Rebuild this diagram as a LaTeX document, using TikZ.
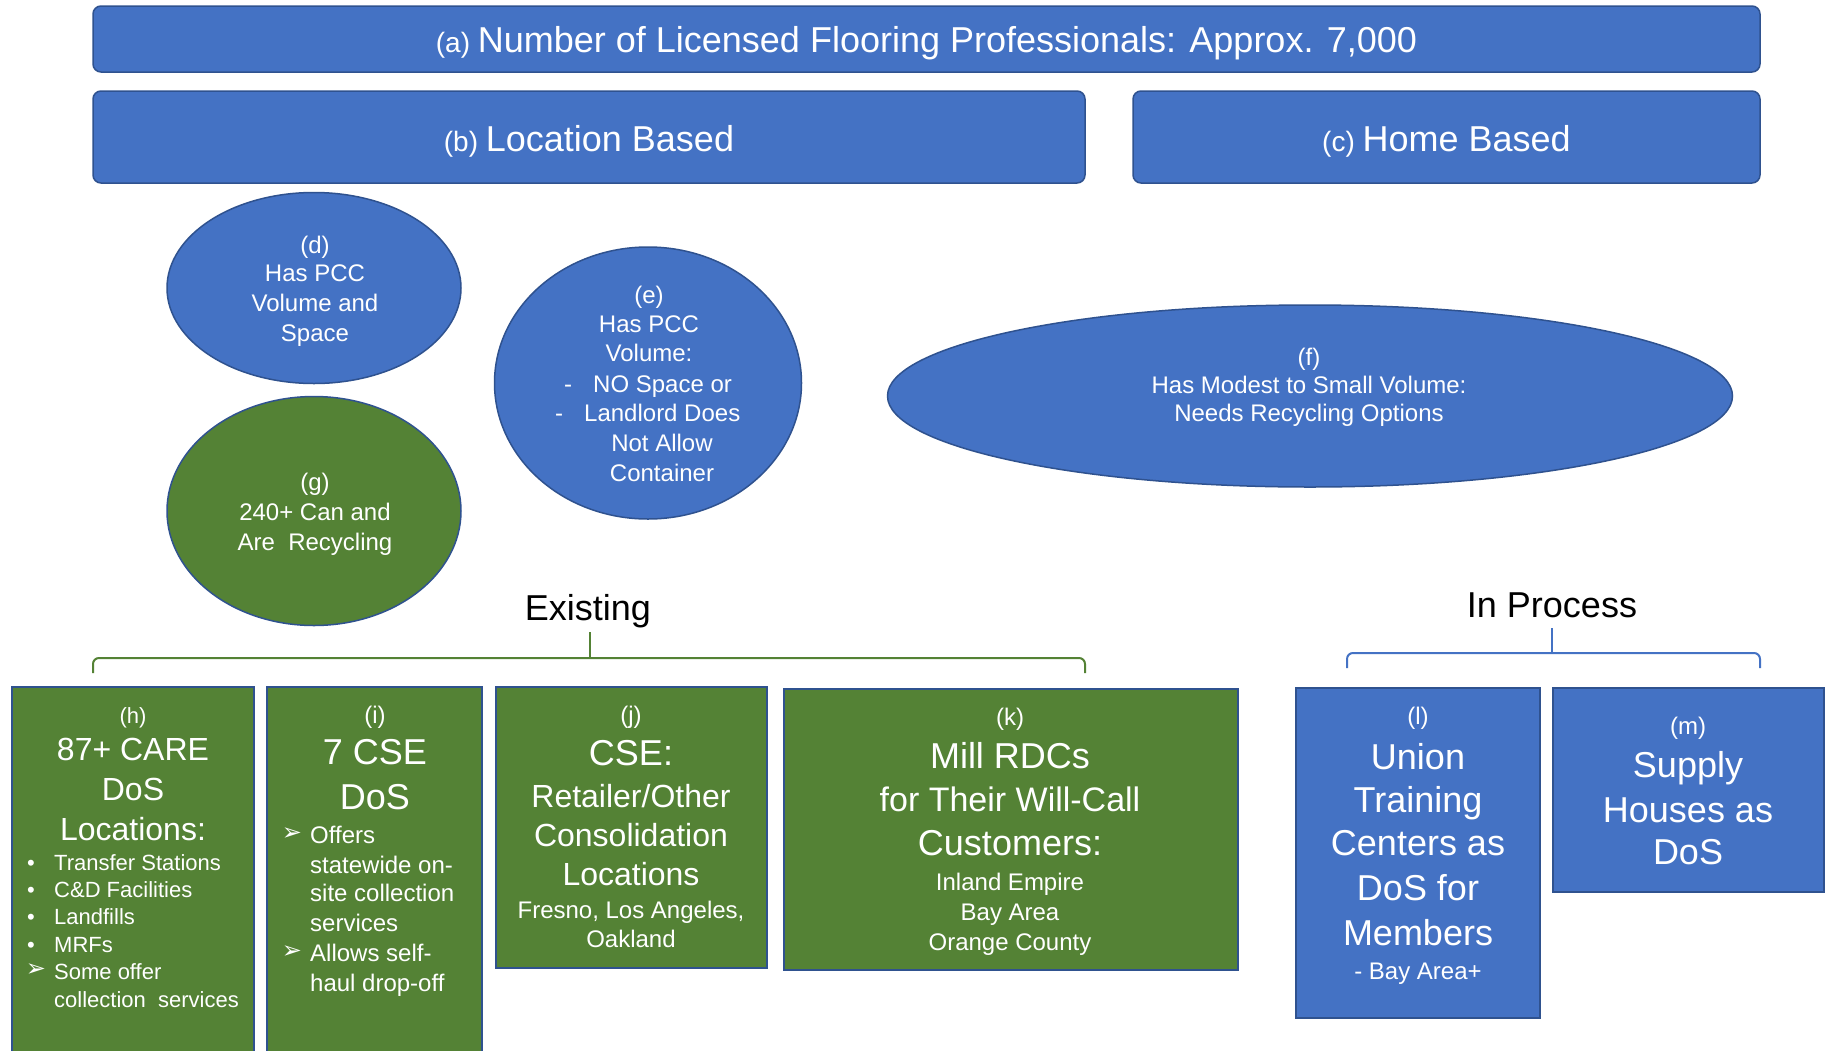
\documentclass[tikz,border=0pt]{standalone}
\usepackage{fontspec}
\setmainfont{Liberation Sans}
\newfontfamily\dejavu{DejaVu Sans}
\usetikzlibrary{shapes.geometric}
\definecolor{ofblue}{HTML}{4472C4}
\definecolor{ofedge}{HTML}{2F528F}
\definecolor{ofgreen}{HTML}{548235}
\definecolor{brgreen}{HTML}{548235}
\newcommand\fs[1]{\fontsize{#1}{#1}\selectfont}
\newcommand\ctl[5]{\node[lbl,font=\fs{#4},anchor=base] (#1) at (#2,{#3+0.34*#4}) {#5};}
\newcommand\ltl[5]{\node[lbl,font=\fs{#4},anchor=base west] (#1) at (#2,{#3+0.34*#4}) {#5};}
\newcommand\arr{{\dejavu\fontsize{24}{24}\selectfont ➢}}
\begin{document}
\begin{tikzpicture}[x=1pt,y=-1pt,
  bluebox/.style={draw=ofedge, fill=ofblue, line width=1.5pt, inner sep=0pt},
  greenbox/.style={draw=ofedge, fill=ofgreen, line width=1.5pt, inner sep=0pt},
  lbl/.style={text=white, inner sep=0pt},
  hdr/.style={text=black, inner sep=0pt, font=\fs{36}}]
\useasboundingbox (0,0) rectangle (1826,1050);
\fill[white] (0,0) rectangle (1826,1050);

% top boxes
\node[bluebox, rounded corners=8pt, minimum width=1667pt, minimum height=66pt] (a) at (926.5,39) {};
\node[bluebox, rounded corners=8pt, minimum width=992pt, minimum height=92pt] (b) at (589,137) {};
\node[bluebox, rounded corners=8pt, minimum width=627pt, minimum height=92pt] (c) at (1446.5,137) {};
\node[lbl] (at) at (926.5,43) {{\fs{28}(a) }{\fs{36}Number of Licensed Flooring Professionals: Approx. 7,000}};
\node[lbl] (bt) at (589,141) {{\fs{28}(b) }{\fs{36}Location Based}};
\node[lbl] (ct) at (1446.5,141) {{\fs{28}(c) }{\fs{36}Home Based}};

% ellipses
\node[bluebox, ellipse, minimum width=294pt, minimum height=191pt] (d) at (314,288) {};
\node[greenbox, ellipse, minimum width=294pt, minimum height=229pt] (g) at (314,511) {};
\node[bluebox, ellipse, minimum width=307pt, minimum height=272pt] (e) at (648,383) {};
\node[bluebox, ellipse, minimum width=845pt, minimum height=182pt] (f) at (1310,396) {};

\ctl{d1}{315}{245}{24}{(d)}
\ctl{d2}{315}{273}{24}{Has PCC}
\ctl{d3}{315}{303}{24}{Volume and}
\ctl{d4}{315}{333}{24}{Space}

\ctl{g1}{315}{482}{24}{(g)}
\ctl{g2}{315}{512}{24}{240+ Can and}
\ctl{g3}{315}{542}{24}{Are\ \ Recycling}

\ctl{e1}{649}{295}{24}{(e)}
\ctl{e2}{649}{324}{24}{Has PCC}
\ctl{e3}{649}{353}{24}{Volume:}
\ctl{e4a}{568}{384}{24}{-}
\ltl{e4}{593}{384}{24}{NO Space or}
\ctl{e5a}{559}{413}{24}{-}
\ltl{e5}{584}{413}{24}{Landlord Does}
\ctl{e6}{662}{443}{24}{Not Allow}
\ctl{e7}{662}{473}{24}{Container}

\ctl{f1}{1309}{357}{24}{(f)}
\ctl{f2}{1309}{385}{24}{Has Modest to Small Volume:}
\ctl{f3}{1309}{413}{24}{Needs Recycling Options}

% group headers and brackets
\node[hdr] (exist) at (588,611) {Existing};
\node[hdr] (inproc) at (1552,605) {In Process};
\coordinate (exL) at (93,673);
\coordinate (exR) at (1085,673);
\coordinate (exT) at (590,632);
\draw[brgreen, line width=2pt, rounded corners=6pt] (exL) -- (93,658) -- (1085,658) -- (exR);
\draw[brgreen, line width=2pt] (590,658) -- (exT);
\coordinate (ipL) at (1347,668);
\coordinate (ipR) at (1760,668);
\coordinate (ipT) at (1552,628);
\draw[ofblue, line width=2pt, rounded corners=6pt] (ipL) -- (1347,653) -- (1760,653) -- (ipR);
\draw[ofblue, line width=2pt] (1552,653) -- (ipT);

% bottom boxes
\node[greenbox, minimum width=242pt, minimum height=375pt] (h) at (133,874.5) {};
\node[greenbox, minimum width=215pt, minimum height=375pt] (i) at (374.5,874.5) {};
\node[greenbox, minimum width=271pt, minimum height=281pt] (j) at (631.5,827.5) {};
\node[greenbox, minimum width=454pt, minimum height=281pt] (k) at (1011,829.5) {};
\node[bluebox, minimum width=244pt, minimum height=330pt] (l) at (1418,853) {};
\node[bluebox, minimum width=271pt, minimum height=204pt] (m) at (1688.5,790) {};

% (h)
\ctl{h1}{133}{716}{22}{(h)}
\ctl{h2}{133}{750}{32}{87+ CARE}
\ctl{h3}{133}{790}{32}{DoS}
\ctl{h4}{133}{830}{32}{Locations:}
\ctl{hb1}{31}{863}{22}{•}
\ltl{ht1}{54}{863}{22}{Transfer Stations}
\ctl{hb2}{31}{890}{22}{•}
\ltl{ht2}{54}{890}{22}{C\&D Facilities}
\ctl{hb3}{31}{917}{22}{•}
\ltl{ht3}{54}{917}{22}{Landfills}
\ctl{hb4}{31}{945}{22}{•}
\ltl{ht4}{54}{945}{22}{MRFs}
\ctl{hb5}{36}{969}{22}{\arr}
\ltl{ht5}{54}{972}{22}{Some offer}
\ltl{ht6}{54}{1000}{22}{collection\ \ services}

% (i)
\ctl{i1}{375}{715}{24}{(i)}
\ctl{i2}{375}{752}{36}{7 CSE}
\ctl{i3}{375}{797}{36}{DoS}
\ctl{ib1}{292}{832}{24}{\arr}
\ltl{it1}{310}{835}{24}{Offers}
\ltl{it2}{310}{865}{24}{statewide on-}
\ltl{it3}{310}{893}{24}{site collection}
\ltl{it4}{310}{923}{24}{services}
\ctl{ib2}{292}{950}{24}{\arr}
\ltl{it5}{310}{953}{24}{Allows self-}
\ltl{it6}{310}{983}{24}{haul drop-off}

% (j)
\ctl{j1}{631}{715}{24}{(j)}
\ctl{j2}{631}{753}{36}{CSE:}
\ctl{j3}{631}{797}{32}{Retailer/Other}
\ctl{j4}{631}{836}{32}{Consolidation}
\ctl{j5}{631}{875}{32}{Locations}
\ctl{j6}{631}{910}{24}{Fresno, Los Angeles,}
\ctl{j7}{631}{939}{24}{Oakland}

% (k)
\ctl{k1}{1010}{717}{24}{(k)}
\ctl{k2}{1010}{756}{36}{Mill RDCs}
\ctl{k3}{1010}{800}{34}{for Their Will-Call}
\ctl{k4}{1010}{843}{36}{Customers:}
\ctl{k5}{1010}{882}{24}{Inland Empire}
\ctl{k6}{1010}{912}{24}{Bay Area}
\ctl{k7}{1010}{942}{24}{Orange County}

% (l)
\ctl{l1}{1418}{716}{24}{(l)}
\ctl{l2}{1418}{757}{36}{Union}
\ctl{l3}{1418}{800}{36}{Training}
\ctl{l4}{1418}{843}{36}{Centers as}
\ctl{l5}{1418}{888}{36}{DoS for}
\ctl{l6}{1418}{933}{36}{Members}
\ctl{l7}{1418}{971}{24}{- Bay Area+}

% (m)
\ctl{m1}{1688}{726}{24}{(m)}
\ctl{m2}{1688}{765}{36}{Supply}
\ctl{m3}{1688}{810}{36}{Houses as}
\ctl{m4}{1688}{852}{36}{DoS}
\end{tikzpicture}
\end{document}
